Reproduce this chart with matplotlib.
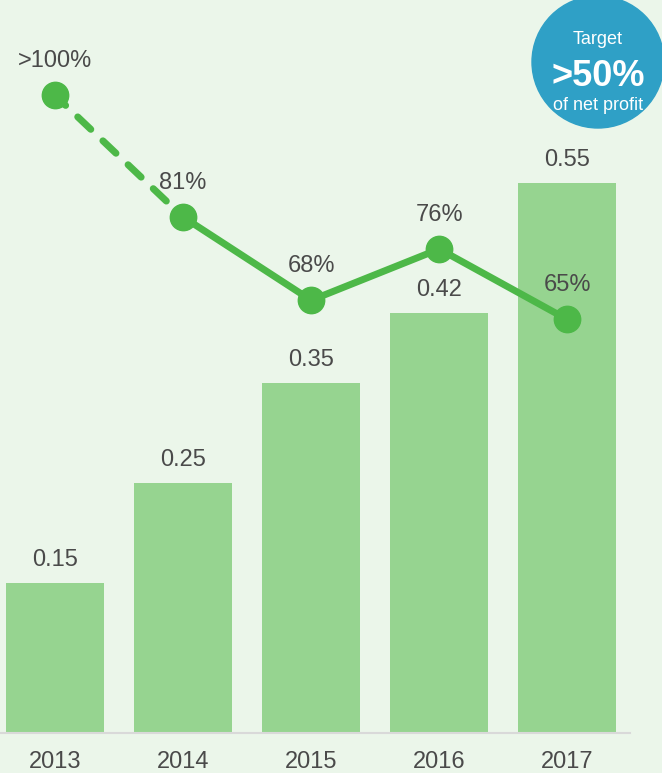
import matplotlib
matplotlib.use('Agg')
from matplotlib import pyplot as plt
from matplotlib.patches import Ellipse

# data
years = ['2013', '2014', '2015', '2016', '2017']
dividend = [0.15, 0.25, 0.35, 0.42, 0.55]
payout = [100, 81, 68, 76, 65]
payout_labels = ['>100%', '81%', '68%', '76%', '65%']

bg = '#ebf6ea'
bar_color = '#96d490'
line_color = '#4db848'
text_color = '#4a4a4a'
plt.rcParams['font.family'] = ['Liberation Sans', 'DejaVu Sans']

W, H = 662, 773
fig = plt.figure(figsize=(W / 100, H / 100), dpi=100)
fig.patch.set_facecolor(bg)

# axes: x 0..630 px, y from top 0 to baseline at 733 px
ax = fig.add_axes([0, 40 / H, 630 / W, 733 / H])
ax.set_facecolor(bg)
x = list(range(len(years)))
ax.bar(x, dividend, width=0.766, color=bar_color, zorder=2)
for xi, v in zip(x, dividend):
    ax.annotate('{:.2f}'.format(v), (xi, v), xytext=(0, 12), textcoords='offset pixels',
                ha='center', va='bottom', fontsize=17, color=text_color)
ax.set_xlim(-0.43, 4.49)
ax.set_ylim(0, 0.733)
ax.set_yticks([])
ax.set_xticks(x)
ax.set_xticklabels(years, fontsize=17, color=text_color)
ax.tick_params(axis='x', length=0, pad=13)
for s in ['top', 'right', 'left']:
    ax.spines[s].set_visible(False)
ax.spines['bottom'].set_color('#d9d9d9')
ax.spines['bottom'].set_linewidth(1.5)

ax2 = ax.twinx()
ax2.set_ylim(0.4, 114.9)
ax2.axis('off')
ax2.plot(x[:2], payout[:2], color=line_color, lw=5, ls=(0.5, (2.6, 2.4)),
         dash_capstyle='round', zorder=3)
ax2.plot(x[1:], payout[1:], color=line_color, lw=5, solid_capstyle='round', zorder=3)
ax2.plot(x, payout, 'o', color=line_color, ms=19, zorder=4)
for xi, v, lab in zip(x, payout, payout_labels):
    ax2.annotate(lab, (xi, v), xytext=(0, 23), textcoords='offset pixels',
                 ha='center', va='bottom', fontsize=17, color=text_color)

# target bubble
fig.add_artist(Ellipse((598 / W, 1 - 62 / H), 132 / W, 132 / H,
                       transform=fig.transFigure, color='#2fa0c6', zorder=5))
fig.text(598 / W, 1 - 40 / H, 'Target', ha='center', va='center', color='white',
         fontsize=13, zorder=6)
fig.text(598 / W, 1 - 76 / H, '>50%', ha='center', va='center', color='white',
         fontsize=26, fontweight='bold', zorder=6)
fig.text(598 / W, 1 - 106 / H, 'of net profit', ha='center', va='center', color='white',
         fontsize=13, zorder=6)

fig.savefig('out.png', dpi=100, facecolor=bg)
